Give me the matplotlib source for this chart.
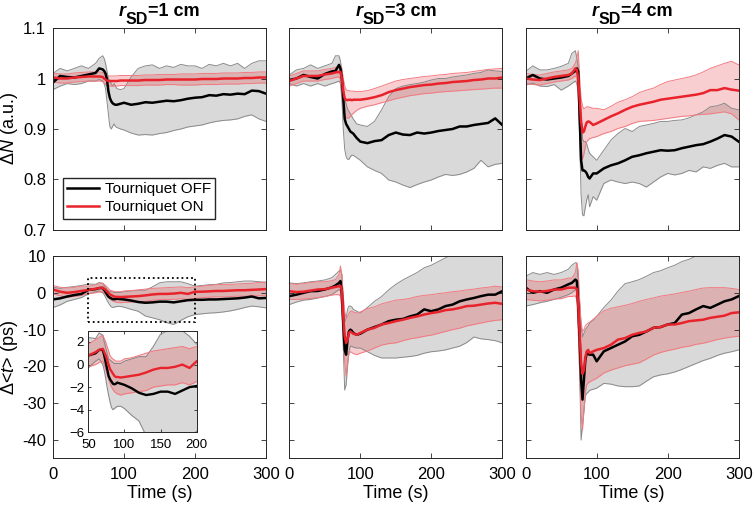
import matplotlib
matplotlib.use('Agg')
import matplotlib.pyplot as plt
from matplotlib.patches import Rectangle
from matplotlib.ticker import FuncFormatter
from matplotlib.transforms import ScaledTranslation

plt.rcParams['font.family'] = ['Liberation Sans', 'DejaVu Sans']
plt.rcParams['mathtext.fontset'] = 'custom'
plt.rcParams['mathtext.rm'] = 'Liberation Sans'
plt.rcParams['mathtext.it'] = 'Liberation Sans:italic'
plt.rcParams['mathtext.bf'] = 'Liberation Sans:bold'

# ---- data ---------------------------------------------------------------
time_s = [0, 10, 20, 30, 40, 50, 60, 65, 70, 72, 74, 76, 78, 80, 82, 84, 86, 88,
          90, 95, 100, 110, 120, 130, 140, 150, 160, 170, 180, 190, 200, 210,
          220, 230, 240, 250, 260, 270, 280, 290, 300]

distances = ['1', '3', '4']

# dN, r_SD = 1 cm
n1_off = [0.992, 1.005, 1.003, 1.002, 1.005, 1.008, 1.011, 1.020, 1.018, 1.015, 1.010,
          0.998, 0.975, 0.962, 0.955, 0.951, 0.949, 0.948, 0.948, 0.950, 0.952, 0.948,
          0.950, 0.953, 0.952, 0.954, 0.956, 0.955, 0.957, 0.960, 0.962, 0.963, 0.967,
          0.966, 0.969, 0.968, 0.970, 0.969, 0.976, 0.975, 0.970]
n1_off_hi = [1.010, 1.020, 1.015, 1.020, 1.025, 1.020, 1.030, 1.040, 1.045, 1.040, 1.030,
             1.015, 1.000, 0.995, 0.990, 0.985, 0.990, 0.985, 0.980, 0.978, 0.980, 1.003,
             1.020, 1.025, 1.027, 1.020, 1.025, 1.022, 1.028, 1.025, 1.025, 1.020, 1.028,
             1.025, 1.030, 1.025, 1.030, 1.020, 1.030, 1.035, 1.035]
n1_off_lo = [0.978, 0.985, 0.990, 0.988, 0.990, 0.995, 0.995, 0.998, 0.995, 0.990, 0.980,
             0.955, 0.930, 0.905, 0.900, 0.905, 0.910, 0.905, 0.903, 0.900, 0.898, 0.892,
             0.888, 0.889, 0.888, 0.891, 0.893, 0.897, 0.900, 0.904, 0.906, 0.908, 0.912,
             0.915, 0.917, 0.918, 0.920, 0.925, 0.928, 0.920, 0.915]
n1_on = [1.002, 1.000, 1.000, 1.002, 1.003, 1.004, 1.004, 1.004, 1.003, 1.000, 0.998,
         0.996, 0.995, 0.995, 0.995, 0.995, 0.995, 0.995, 0.995, 0.996, 0.996, 0.996,
         0.996, 0.997, 0.997, 0.997, 0.998, 0.998, 0.998, 0.998, 0.998, 0.999, 0.999,
         0.999, 1.000, 1.000, 1.000, 1.001, 1.001, 1.002, 1.002]
n1_on_hi = [1.011, 1.009, 1.009, 1.011, 1.012, 1.013, 1.013, 1.013, 1.012, 1.010, 1.008,
            1.006, 1.005, 1.005, 1.005, 1.005, 1.005, 1.005, 1.005, 1.006, 1.006, 1.006,
            1.006, 1.007, 1.007, 1.008, 1.008, 1.008, 1.009, 1.009, 1.009, 1.010, 1.010,
            1.010, 1.011, 1.011, 1.011, 1.012, 1.012, 1.013, 1.013]
n1_on_lo = [0.993, 0.991, 0.991, 0.993, 0.994, 0.995, 0.995, 0.995, 0.994, 0.991, 0.988,
            0.986, 0.985, 0.985, 0.985, 0.985, 0.985, 0.985, 0.985, 0.986, 0.986, 0.986,
            0.986, 0.987, 0.987, 0.987, 0.988, 0.988, 0.987, 0.987, 0.987, 0.988, 0.988,
            0.988, 0.989, 0.989, 0.989, 0.990, 0.990, 0.991, 0.991]

# dN, r_SD = 3 cm
n3_off = [0.997, 1.000, 1.007, 1.003, 1.000, 1.009, 1.014, 1.015, 1.027, 1.020, 1.000,
          0.960, 0.920, 0.910, 0.905, 0.900, 0.895, 0.893, 0.891, 0.882, 0.875, 0.872,
          0.876, 0.878, 0.888, 0.893, 0.889, 0.888, 0.893, 0.891, 0.893, 0.896, 0.898,
          0.900, 0.905, 0.905, 0.908, 0.910, 0.912, 0.921, 0.908]
n3_off_hi = [1.007, 1.017, 1.020, 1.027, 1.020, 1.025, 1.030, 1.045, 1.045, 1.035, 1.015,
             0.990, 0.960, 0.950, 0.940, 0.935, 0.930, 0.925, 0.920, 0.910, 0.908, 0.905,
             0.915, 0.938, 0.964, 0.980, 0.985, 0.988, 0.990, 0.993, 0.997, 1.000, 1.000,
             1.003, 1.005, 1.007, 1.010, 1.012, 1.017, 1.015, 1.014]
n3_off_lo = [0.990, 0.985, 0.990, 0.985, 0.990, 0.985, 0.990, 0.992, 0.995, 0.990, 0.960,
             0.900, 0.860, 0.845, 0.840, 0.840, 0.845, 0.848, 0.848, 0.843, 0.838, 0.825,
             0.818, 0.812, 0.799, 0.795, 0.789, 0.784, 0.790, 0.795, 0.799, 0.805, 0.810,
             0.808, 0.810, 0.815, 0.822, 0.838, 0.825, 0.830, 0.832]
n3_on = [0.995, 1.000, 1.005, 1.005, 1.005, 1.008, 1.010, 1.012, 1.013, 1.013, 1.000,
         0.975, 0.960, 0.958, 0.957, 0.958, 0.958, 0.957, 0.958, 0.958, 0.958, 0.960,
         0.963, 0.967, 0.973, 0.977, 0.980, 0.983, 0.985, 0.987, 0.988, 0.990, 0.991,
         0.993, 0.994, 0.995, 0.997, 0.998, 1.000, 1.000, 1.002]
n3_on_hi = [1.005, 1.010, 1.015, 1.015, 1.015, 1.018, 1.020, 1.022, 1.023, 1.025, 1.020,
            1.000, 0.985, 0.978, 0.976, 0.976, 0.975, 0.975, 0.975, 0.974, 0.974, 0.976,
            0.980, 0.985, 0.990, 0.995, 0.998, 1.000, 1.002, 1.004, 1.005, 1.007, 1.008,
            1.010, 1.011, 1.012, 1.014, 1.016, 1.018, 1.019, 1.020]
n3_on_lo = [0.985, 0.990, 0.995, 0.995, 0.995, 0.998, 1.000, 1.002, 1.003, 0.998, 0.975,
            0.945, 0.930, 0.922, 0.921, 0.922, 0.925, 0.928, 0.931, 0.937, 0.941, 0.945,
            0.948, 0.952, 0.956, 0.960, 0.963, 0.966, 0.968, 0.970, 0.971, 0.973, 0.974,
            0.975, 0.976, 0.977, 0.978, 0.979, 0.980, 0.981, 0.981]

# dN, r_SD = 4 cm
n4_off = [1.000, 1.007, 1.000, 0.998, 1.000, 1.002, 1.005, 1.010, 1.015, 1.020, 1.014,
          0.925, 0.838, 0.818, 0.818, 0.816, 0.812, 0.805, 0.802, 0.812, 0.812, 0.822,
          0.828, 0.832, 0.838, 0.845, 0.848, 0.852, 0.855, 0.858, 0.857, 0.858, 0.862,
          0.865, 0.868, 0.870, 0.875, 0.881, 0.888, 0.885, 0.875]
n4_off_hi = [1.014, 1.025, 1.017, 1.017, 1.020, 1.024, 1.030, 1.050, 1.055, 1.040, 1.024,
             0.970, 0.930, 0.880, 0.875, 0.875, 0.870, 0.860, 0.852, 0.845, 0.838, 0.858,
             0.878, 0.891, 0.901, 0.895, 0.905, 0.908, 0.911, 0.915, 0.915, 0.917, 0.918,
             0.922, 0.928, 0.934, 0.944, 0.946, 0.951, 0.941, 0.938]
n4_off_lo = [0.987, 0.991, 0.985, 0.984, 0.988, 0.977, 0.985, 0.990, 0.995, 0.990, 0.975,
             0.880, 0.770, 0.730, 0.728, 0.745, 0.760, 0.770, 0.746, 0.766, 0.759, 0.792,
             0.799, 0.795, 0.792, 0.795, 0.792, 0.785, 0.795, 0.805, 0.812, 0.809, 0.812,
             0.818, 0.815, 0.825, 0.822, 0.828, 0.832, 0.825, 0.825]
n4_on = [1.000, 0.998, 0.997, 1.000, 1.003, 1.005, 1.007, 1.010, 1.020, 1.017, 1.000,
         0.960, 0.915, 0.893, 0.895, 0.905, 0.913, 0.915, 0.914, 0.908, 0.911, 0.918,
         0.925, 0.931, 0.938, 0.944, 0.948, 0.951, 0.954, 0.958, 0.960, 0.962, 0.964,
         0.966, 0.968, 0.971, 0.977, 0.977, 0.981, 0.978, 0.976]
n4_on_hi = [1.010, 1.008, 1.007, 1.010, 1.013, 1.015, 1.017, 1.020, 1.030, 1.040, 1.055,
            1.000, 0.960, 0.945, 0.940, 0.942, 0.944, 0.944, 0.943, 0.941, 0.941, 0.938,
            0.945, 0.953, 0.958, 0.964, 0.972, 0.977, 0.981, 0.988, 0.994, 0.997, 1.000,
            1.003, 1.007, 1.013, 1.020, 1.025, 1.030, 1.034, 1.027]
n4_on_lo = [0.990, 0.988, 0.987, 0.990, 0.993, 0.995, 0.997, 1.000, 1.005, 1.000, 0.960,
            0.900, 0.860, 0.840, 0.850, 0.865, 0.875, 0.878, 0.881, 0.883, 0.885, 0.891,
            0.895, 0.901, 0.905, 0.911, 0.915, 0.916, 0.917, 0.919, 0.921, 0.923, 0.925,
            0.926, 0.928, 0.929, 0.930, 0.932, 0.934, 0.930, 0.918]

# d<t> (ps), r_SD = 1 cm
t1_off = [-1.8, -1.5, -1.0, -0.6, -0.3, 0.8, 1.0, 1.3, 1.3, 0.8, 0.2, -0.4, -1.0, -1.3,
          -1.5, -1.7, -1.75, -1.7, -1.6, -1.7, -1.8, -2.1, -2.5, -2.7, -2.6, -2.4, -2.4,
          -2.6, -2.3, -2.0, -1.9, -1.9, -1.8, -1.8, -1.7, -1.6, -1.5, -1.3, -1.0, -1.5, -1.4]
t1_off_hi = [1.5, 1.2, 1.5, 1.7, 2.0, 2.4, 2.3, 2.8, 2.6, 2.0, 1.5, 1.0, 0.5, 0.4, 0.3,
             0.2, 0.1, 0.1, 0.1, 0.1, 0.3, 0.5, 0.7, 0.7, 1.6, 2.7, 3.0, 3.0, 3.0, 2.5,
             1.8, 2.0, 2.2, 2.3, 2.7, 2.8, 3.0, 3.2, 3.2, 3.0, 2.9]
t1_off_lo = [-4.0, -3.3, -2.3, -1.8, -1.3, -0.3, 0.3, 0.5, 0.0, -0.5, -1.2, -2.0, -2.7,
             -3.3, -3.8, -4.0, -3.9, -3.8, -3.7, -3.7, -3.9, -4.5, -5.0, -6.3, -6.8, -7.3,
             -8.1, -8.6, -7.5, -6.5, -5.9, -5.7, -5.5, -5.4, -5.2, -4.9, -4.5, -4.0, -3.6,
             -3.8, -4.1]
t1_on = [0.9, 0.3, 0.0, 0.2, 0.5, 0.8, 1.1, 1.3, 1.4, 1.1, 0.8, 0.4, 0.0, -0.4, -0.6,
         -0.8, -1.0, -1.1, -1.1, -1.15, -1.1, -1.0, -0.9, -0.7, -0.45, -0.3, -0.3, -0.2,
         0.0, -0.3, 0.3, 0.3, 0.4, 0.5, 0.5, 0.6, 0.7, 0.7, 0.8, 0.9, 1.0]
t1_on_hi = [2.0, 1.5, 1.3, 1.5, 1.8, 1.8, 2.2, 2.4, 2.6, 2.3, 2.0, 1.6, 1.2, 0.8, 0.6,
            0.5, 0.4, 0.3, 0.3, 0.3, 0.5, 0.6, 0.8, 1.0, 1.2, 1.3, 1.4, 1.5, 1.6, 1.4,
            1.6, 1.8, 2.0, 2.2, 2.3, 2.3, 2.4, 2.5, 2.6, 2.8, 2.8]
t1_on_lo = [-0.3, -0.8, -1.2, -1.0, -0.7, -0.2, 0.0, 0.2, 0.3, 0.0, -0.4, -0.9, -1.3,
            -1.7, -2.0, -2.2, -2.4, -2.5, -2.6, -2.7, -2.6, -2.5, -2.4, -2.3, -2.0, -1.9,
            -1.8, -1.8, -1.6, -1.8, -1.5, -1.3, -1.2, -1.1, -1.1, -1.0, -0.9, -0.9, -0.8,
            -0.8, -0.8]

# d<t> (ps), r_SD = 3 cm
t3_off = [-0.9, -0.5, 0.0, 0.45, 0.5, 0.9, 1.5, 2.0, 2.7, 3.2, 0.0, -8.2, -15.5, -16.8,
          -12.7, -10.5, -10.0, -10.3, -10.9, -11.4, -11.1, -10.0, -9.3, -8.6, -7.7, -7.3,
          -7.1, -6.4, -5.9, -4.5, -5.0, -4.5, -3.6, -3.2, -2.3, -1.8, -1.4, -0.9, -0.5,
          -0.5, 0.45]
t3_off_hi = [2.7, 2.5, 2.7, 3.0, 3.2, 3.5, 4.1, 5.0, 5.9, 6.2, 5.0, -2.0, -8.0, -7.0,
             -4.5, -3.6, -3.6, -3.8, -4.5, -5.0, -5.5, -4.0, -2.3, -1.0, 0.8, 2.3, 3.5,
             4.5, 5.5, 6.8, 7.5, 8.5, 9.5, 10.5, 11.0, 12.0, 12.0, 12.0, 12.0, 12.0, 12.0]
t3_off_lo = [-3.2, -2.5, -2.0, -1.8, -1.4, -1.0, -0.5, 0.2, 0.9, 0.5, -5.0, -15.0, -26.4,
             -25.0, -20.0, -16.0, -14.5, -14.5, -14.8, -15.0, -15.0, -16.0, -17.0, -17.7,
             -17.7, -17.7, -17.5, -17.3, -17.0, -16.4, -16.0, -15.8, -15.5, -15.0, -14.5,
             -13.5, -12.0, -12.5, -12.7, -13.0, -13.6]
t3_on = [0.45, 0.2, 0.3, 0.6, 0.9, 1.0, 1.4, 1.6, 1.8, 1.9, 0.5, -6.4, -11.8, -13.6,
         -12.7, -10.9, -10.5, -10.8, -11.1, -11.4, -10.9, -10.0, -9.5, -8.6, -8.2, -7.7,
         -7.3, -6.8, -6.4, -5.9, -5.5, -5.2, -4.7, -4.5, -4.1, -3.6, -3.5, -3.2, -2.9,
         -2.7, -3.0]
t3_on_hi = [2.5, 2.3, 2.5, 2.8, 3.0, 3.0, 3.3, 3.6, 5.0, 7.3, 5.0, -1.0, -5.0, -7.0,
            -6.5, -5.5, -5.0, -5.0, -5.2, -5.5, -5.2, -4.3, -3.8, -3.0, -2.5, -2.0, -1.8,
            -1.5, -1.0, -0.7, -0.5, -0.2, 0.0, 0.3, 0.5, 0.8, 1.0, 1.3, 1.5, 1.8, 1.6]
t3_on_lo = [-1.8, -1.8, -1.7, -1.5, -1.3, -1.0, -0.6, -0.5, -0.5, -1.0, -4.0, -12.0,
            -19.0, -22.7, -19.0, -16.5, -16.0, -16.2, -16.5, -16.8, -16.4, -15.8, -15.0,
            -14.2, -13.8, -13.6, -13.0, -12.5, -12.2, -11.8, -11.5, -11.0, -10.5, -10.0,
            -9.6, -9.0, -8.6, -8.2, -7.8, -7.5, -7.3]

# d<t> (ps), r_SD = 4 cm
t4_off = [1.4, 0.0, 0.45, 0.0, 0.9, 1.4, 2.3, 2.7, 3.6, 3.2, -3.6, -12.7, -23.6, -29.0,
          -23.6, -18.2, -16.4, -16.6, -16.8, -16.8, -18.6, -15.9, -15.0, -14.1, -13.2,
          -11.8, -11.4, -10.5, -9.5, -9.3, -8.6, -8.2, -5.9, -5.5, -4.5, -3.6, -4.1, -3.2,
          -2.3, -1.8, -0.9]
t4_off_hi = [4.5, 5.5, 5.0, 5.5, 5.0, 5.5, 6.4, 7.5, 8.2, 8.0, 3.0, -3.0, -9.0, -12.0,
             -11.0, -10.0, -9.5, -9.0, -8.2, -7.5, -6.4, -4.0, -2.0, 0.5, 2.5, 3.0, 3.6,
             4.5, 5.5, 6.0, 6.8, 7.5, 8.5, 9.1, 10.0, 10.5, 11.0, 11.5, 12.0, 12.0, 12.0]
t4_off_lo = [-3.6, -3.2, -2.7, -2.3, -1.8, -1.2, -0.5, 0.0, 0.9, 0.5, -10.0, -22.0, -40.0,
             -36.0, -32.0, -28.0, -27.3, -27.0, -26.5, -26.2, -25.9, -24.6, -24.8, -25.3,
             -25.5, -25.5, -25.3, -24.0, -22.8, -22.3, -22.0, -21.5, -20.8, -20.0, -19.2,
             -18.4, -17.8, -17.0, -16.4, -16.0, -15.5]
t4_on = [0.9, 0.45, 0.3, 0.5, 0.9, 0.9, 1.4, 1.4, 1.4, 1.0, -3.0, -11.0, -19.0, -22.0,
         -21.0, -17.5, -15.9, -15.5, -16.4, -15.9, -15.5, -15.0, -14.1, -12.7, -12.3,
         -11.4, -10.9, -10.5, -9.5, -9.3, -8.6, -8.6, -8.2, -7.7, -7.5, -7.3, -6.8, -6.5,
         -6.2, -5.5, -5.3]
t4_on_hi = [3.6, 3.2, 3.0, 3.2, 3.5, 3.5, 4.0, 4.0, 5.5, 8.2, 6.0, -2.0, -8.0, -10.5,
            -10.0, -9.0, -8.5, -8.2, -8.0, -7.2, -6.4, -4.9, -4.2, -3.8, -3.4, -2.9, -2.3,
            -1.8, -1.4, -0.9, -0.6, -0.3, 0.1, 0.45, 0.9, 1.3, 1.4, 1.4, 1.4, 1.2, 0.9]
t4_on_lo = [-1.8, -2.0, -2.2, -2.0, -1.7, -1.6, -1.0, -1.0, -0.8, -2.0, -10.0, -22.0,
            -33.0, -37.3, -32.0, -27.0, -25.0, -24.5, -24.2, -23.7, -23.2, -21.8, -21.0,
            -20.4, -19.8, -19.4, -19.0, -18.0, -16.9, -16.2, -15.7, -15.3, -14.8, -14.5,
            -14.0, -13.7, -13.2, -12.7, -12.3, -12.0, -11.8]

# ---- style --------------------------------------------------------------
RED = '#e8232b'
GREY_FILL = '#d9d9d9'
GREY_EDGE = '#8a8a8a'
PINK_EDGE = '#f27a80'
AX_COLOR = '#262626'

fmt = FuncFormatter(lambda v, p: f'{v:g}')


def draw_panel(ax, off, off_lo, off_hi, on, on_lo, on_hi, lw=1.8, edge_lw=0.7):
    ax.fill_between(time_s, off_lo, off_hi, color=GREY_FILL, lw=0)
    ax.fill_between(time_s, on_lo, on_hi, color=RED, alpha=0.22, lw=0)
    for edge in (off_lo, off_hi):
        ax.plot(time_s, edge, color=GREY_EDGE, lw=edge_lw)
    for edge in (on_lo, on_hi):
        ax.plot(time_s, edge, color=PINK_EDGE, lw=edge_lw)
    ax.plot(time_s, off, color='black', lw=lw, label='Tourniquet OFF')
    ax.plot(time_s, on, color=RED, lw=lw, label='Tourniquet ON')


def style_axes(ax, size=12):
    ax.tick_params(direction='in', top=True, right=True, length=3.5, width=0.6,
                   color=AX_COLOR, labelsize=size)
    ax.tick_params(axis='x', pad=6)
    ax.tick_params(axis='y', pad=5)
    for sp in ax.spines.values():
        sp.set_linewidth(0.7)
        sp.set_color(AX_COLOR)


fig = plt.figure(figsize=(7.55, 5.12), dpi=100)

col_left = [0.0702, 0.3832, 0.6963]
width = 0.2821
top_row = (0.5508, 0.3945)
bot_row = (0.1045, 0.3955)

top_data = [(n1_off, n1_off_lo, n1_off_hi, n1_on, n1_on_lo, n1_on_hi),
            (n3_off, n3_off_lo, n3_off_hi, n3_on, n3_on_lo, n3_on_hi),
            (n4_off, n4_off_lo, n4_off_hi, n4_on, n4_on_lo, n4_on_hi)]
bot_data = [(t1_off, t1_off_lo, t1_off_hi, t1_on, t1_on_lo, t1_on_hi),
            (t3_off, t3_off_lo, t3_off_hi, t3_on, t3_on_lo, t3_on_hi),
            (t4_off, t4_off_lo, t4_off_hi, t4_on, t4_on_lo, t4_on_hi)]

title_parts = []
for i, left in enumerate(col_left):
    # ΔN row
    ax = fig.add_axes([left, top_row[0], width, top_row[1]])
    draw_panel(ax, *top_data[i])
    ax.set_xlim(0, 300)
    ax.set_ylim(0.7, 1.1)
    ax.set_xticks([0, 100, 200, 300])
    ax.set_yticks([0.7, 0.8, 0.9, 1.0, 1.1])
    ax.yaxis.set_major_formatter(fmt)
    ax.tick_params(labelbottom=False)
    style_axes(ax)
    # title "r_SD=x cm" built from pieces so the subscript keeps near full size
    parts = [ax.text(0.5, 1.0, 'r', fontsize=13, fontweight='bold', style='italic',
                     va='baseline', transform=ax.transAxes),
             ax.text(0.5, 1.0, 'SD', fontsize=11.5, fontweight='bold',
                     va='baseline', transform=ax.transAxes),
             ax.text(0.5, 1.0, '=' + distances[i] + ' cm', fontsize=13,
                     fontweight='bold', va='baseline', transform=ax.transAxes)]
    title_parts.append((ax, parts))
    if i == 0:
        ax.set_ylabel(r'Δ$\mathit{N}$ (a.u.)', fontsize=13)
        ax.yaxis.set_label_coords(-0.155, 0.5)
        ax.legend(loc='lower left', bbox_to_anchor=(0.045, 0.055), fontsize=11,
                  fancybox=False, edgecolor=AX_COLOR, framealpha=1,
                  handlelength=2.1, handletextpad=0.35, borderaxespad=0,
                  borderpad=0.3, labelspacing=0.25)
    else:
        ax.tick_params(labelleft=False)

    # Δ<t> row
    ax = fig.add_axes([left, bot_row[0], width, bot_row[1]])
    draw_panel(ax, *bot_data[i])
    ax.set_xlim(0, 300)
    ax.set_ylim(-45, 10)
    ax.set_xticks([0, 100, 200, 300])
    ax.set_yticks([-40, -30, -20, -10, 0, 10])
    ax.yaxis.set_major_formatter(fmt)
    style_axes(ax)
    ax.set_xlabel('Time (s)', fontsize=13, labelpad=2)
    if i == 0:
        ax.set_ylabel(r'Δ<$\mathit{t}$> (ps)', fontsize=13)
        ax.yaxis.set_label_coords(-0.155, 0.5)
        ax.add_patch(Rectangle((50, -8), 150, 12, fill=False, ls=':', lw=1.3,
                               ec='black', zorder=5))
    else:
        ax.tick_params(labelleft=False)

# zoomed inset of the 1 cm Δ<t> panel
axin = fig.add_axes([0.117, 0.1557, 0.1436, 0.1984])
draw_panel(axin, *bot_data[0], lw=1.7, edge_lw=0.8)
axin.set_xlim(50, 200)
axin.set_ylim(-6, 3)
axin.set_xticks([50, 100, 150, 200])
axin.set_yticks([-6, -4, -2, 0, 2])
style_axes(axin, size=9.5)
axin.tick_params(length=2.5)
axin.tick_params(axis='x', pad=5)
axin.tick_params(axis='y', pad=3)

# place the title pieces side by side, centred over each panel
fig.canvas.draw()
renderer = fig.canvas.get_renderer()
for ax, parts in title_parts:
    widths = [t.get_window_extent(renderer).width for t in parts]
    x = -sum(widths) / 2
    for t, w, dy in zip(parts, widths, (12, 4, 12)):
        t.set_transform(ax.transAxes + ScaledTranslation(x / fig.dpi, dy / fig.dpi,
                                                         fig.dpi_scale_trans))
        x += w

fig.savefig('out.png', dpi=100)
